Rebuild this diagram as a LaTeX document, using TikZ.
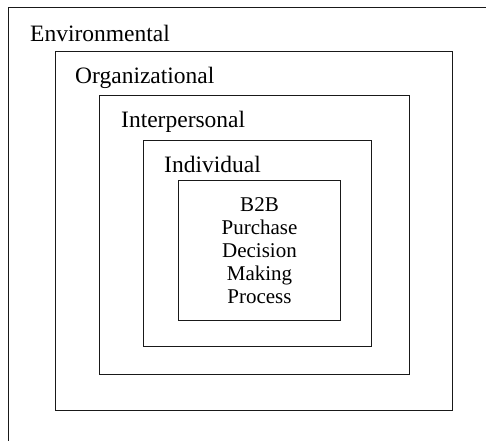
\documentclass[tikz,border=0pt]{standalone}
\usepackage{fontspec}
\setmainfont{Liberation Serif}
\begin{document}
\begin{tikzpicture}[x=1pt,y=-1pt,
  ring/.style={draw=black!90, line width=1.4pt, inner sep=0pt, outer sep=0pt, rectangle},
  lab/.style={inner sep=0pt, anchor=base west, font=\fontsize{23.5}{28}\selectfont},
  core/.style={inner sep=0pt, align=center, font=\fontsize{21}{23.1}\selectfont}]
\useasboundingbox (0,0) rectangle (486,440);
\clip (0,0) rectangle (486,440);
\fill[white] (0,0) rectangle (486,440);
\node[ring, minimum width=492pt, minimum height=453pt] (env) at (254.5,234) {};
\node[ring, minimum width=397pt, minimum height=359pt] (org) at (254,231) {};
\node[ring, minimum width=310pt, minimum height=279pt] (int) at (254.5,235) {};
\node[ring, minimum width=228pt, minimum height=206pt] (ind) at (257.5,243.5) {};
\node[ring, minimum width=162pt, minimum height=140pt] (b2b) at (259.5,250.5) {};
\node[lab] (envl) at ([xshift=21.5pt,yshift=-34.2pt]env.north west) {Environmental};
\node[lab] (orgl) at ([xshift=19.5pt,yshift=-31.8pt]org.north west) {Organizational};
\node[lab] (intl) at ([xshift=21.5pt,yshift=-31.8pt]int.north west) {Interpersonal};
\node[lab] (indl) at ([xshift=20.5pt,yshift=-31.8pt]ind.north west) {Individual};
\node[core] (b2bl) at (b2b.center) {B2B\\Purchase\\Decision\\Making\\Process};
\end{tikzpicture}
\end{document}
